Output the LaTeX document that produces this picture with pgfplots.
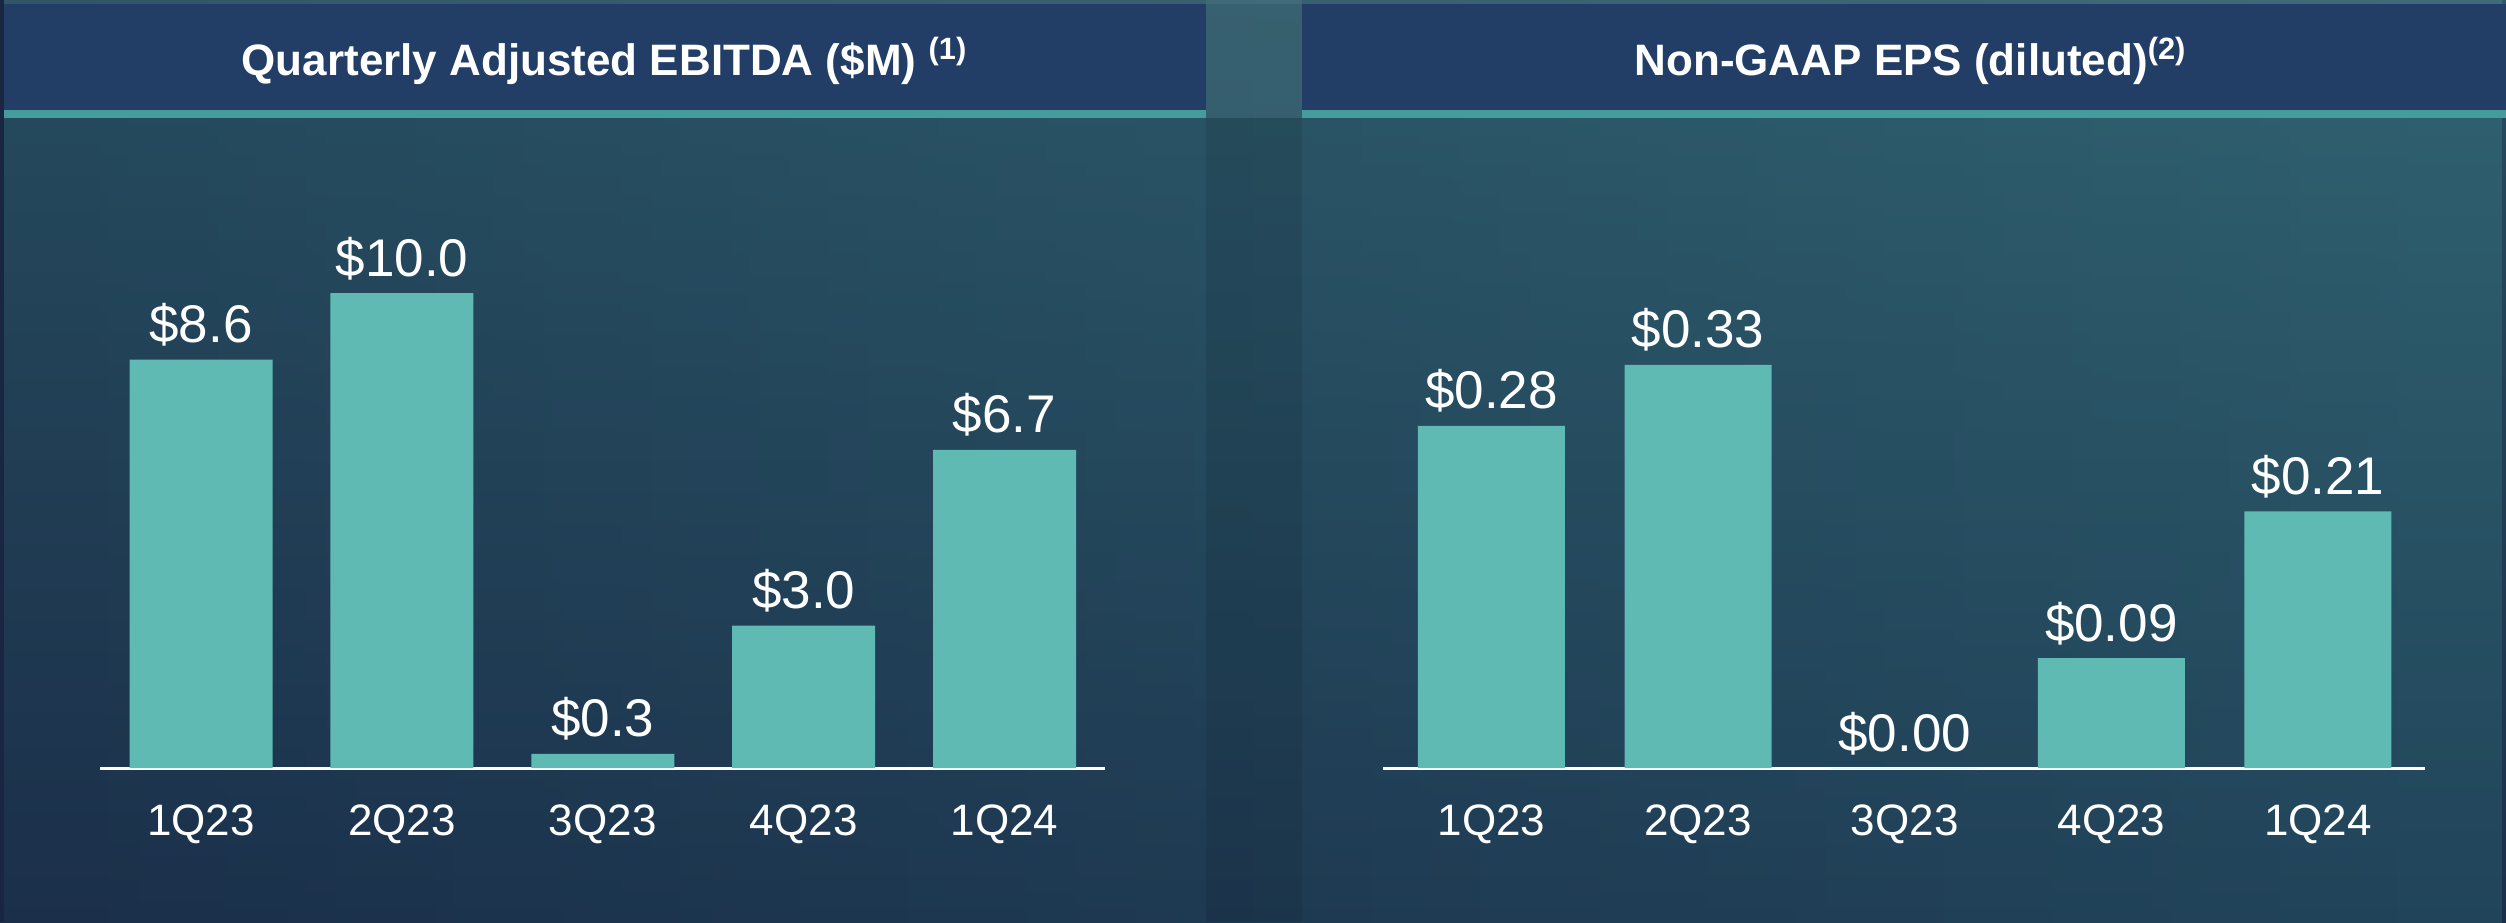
\documentclass[border=0pt]{standalone}
\usepackage{pgfplots}
\pgfplotsset{compat=1.18}
\usetikzlibrary{fadings}
\usepackage{fontspec}
\setmainfont{Liberation Sans}
\definecolor{hdr}{RGB}{34,62,102}
\definecolor{tealline}{RGB}{69,156,156}
\definecolor{barc}{RGB}{95,186,179}
\definecolor{bgtl}{RGB}{38,76,95}
\definecolor{bgbl}{RGB}{27,47,74}
\definecolor{bgtr}{RGB}{49,100,114}
\definecolor{bgbr}{RGB}{34,69,91}
\definecolor{edge}{RGB}{24,38,66}
\begin{document}
\begin{tikzpicture}
\begin{scope}[x=0.25pt,y=-0.25pt]
\path[use as bounding box] (0,0) rectangle (2506,922);
\shade[top color=bgtl,bottom color=bgbl] (0,0) rectangle (2506,922);
\shade[top color=bgtr,bottom color=bgbr,path fading=west] (0,0) rectangle (2506,922);
\fill[black,opacity=0.09] (1206,118) rectangle (1302,922);
\fill[white,opacity=0.06] (1206,0) rectangle (1302,118);
\fill[white,opacity=0.06] (0,0) rectangle (2506,4);
\fill[edge] (0,0) rectangle (4,922);
\fill[hdr] (4,4) rectangle (1206,110);
\fill[hdr] (1302,4) rectangle (2506,110);
\fill[tealline] (4,110) rectangle (1206,118);
\fill[tealline] (1302,110) rectangle (2506,118);
\node[anchor=base, text=white, inner sep=0pt, font=\fontsize{11}{13}\selectfont\bfseries] at (605,75) {Quarterly Adjusted EBITDA (\$M) \textsuperscript{(1)}};
\node[anchor=base, text=white, inner sep=0pt, font=\fontsize{11}{13}\selectfont\bfseries] at (1911,75) {Non-GAAP EPS (diluted)\textsuperscript{(2)}};
\end{scope}

\begin{axis}[
  at={(25pt,-192pt)}, anchor=south west,
  scale only axis, width=251.25pt, height=154.375pt,
  xmin=-0.503, xmax=4.5, ymin=0, ymax=13,
  axis x line*=bottom, axis y line=none,
  x axis line style={white, line width=0.75pt},
  ybar, bar width=35.75pt,
  xtick={0,1,2,3,4}, xticklabels={1Q23,2Q23,3Q23,4Q23,1Q24},
  major tick length=0pt,
  xticklabel style={anchor=base, yshift=-16.75pt, text=white, font=\fontsize{11}{13}\selectfont},
  nodes near coords, point meta=explicit symbolic,
  every node near coord/.append style={anchor=base, yshift=4.25pt, inner sep=0pt, text=white, font=\fontsize{13.25}{15}\selectfont},
  clip=false,
]
\addplot[fill=barc, draw=none] coordinates {
  (0,8.6) [\$8.6]
  (1,10.0) [\$10.0]
  (2,0.3) [\$0.3]
  (3,3.0) [\$3.0]
  (4,6.7) [\$6.7]
};
\end{axis}

\begin{axis}[
  at={(345.75pt,-192pt)}, anchor=south west,
  scale only axis, width=260.5pt, height=122.2pt,
  xmin=-0.525, xmax=4.518, ymin=0, ymax=0.4,
  axis x line*=bottom, axis y line=none,
  x axis line style={white, line width=0.75pt},
  ybar, bar width=36.75pt,
  xtick={0,1,2,3,4}, xticklabels={1Q23,2Q23,3Q23,4Q23,1Q24},
  major tick length=0pt,
  xticklabel style={anchor=base, yshift=-16.75pt, text=white, font=\fontsize{11}{13}\selectfont},
  nodes near coords, point meta=explicit symbolic,
  every node near coord/.append style={anchor=base, yshift=4.25pt, inner sep=0pt, text=white, font=\fontsize{13.25}{15}\selectfont},
  clip=false,
]
\addplot[fill=barc, draw=none] coordinates {
  (0,0.28) [\$0.28]
  (1,0.33) [\$0.33]
  (2,0.00) [\$0.00]
  (3,0.09) [\$0.09]
  (4,0.21) [\$0.21]
};
\end{axis}
\end{tikzpicture}
\end{document}
